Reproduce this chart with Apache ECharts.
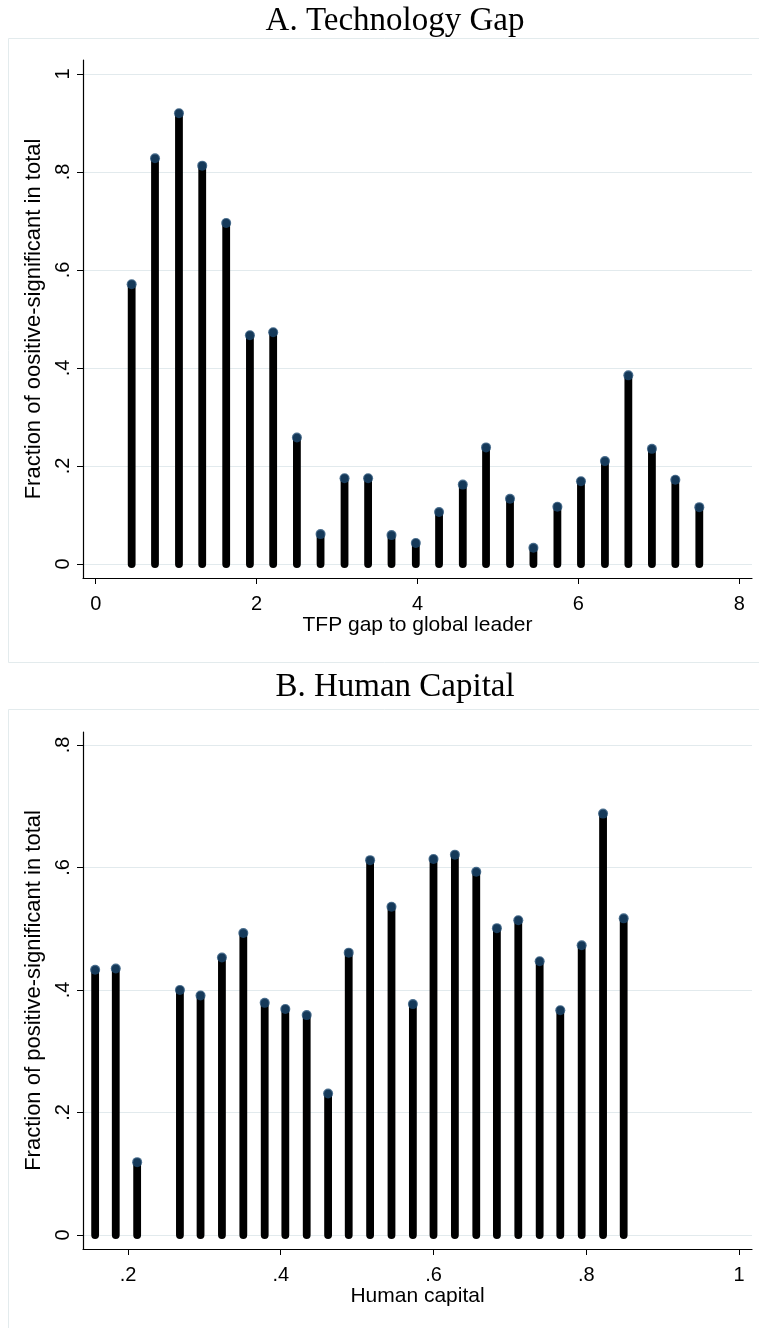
<!DOCTYPE html>
<html>
<head>
<meta charset="utf-8">
<script src="https://cdn.jsdelivr.net/npm/echarts@6/dist/echarts.min.js"></script>
<style>
html,body{margin:0;padding:0;background:#fff;}
#chart{width:759px;height:1328px;}
</style>
</head>
<body>
<div id="chart"></div>
<script>
// ---- Panel A: Technology Gap ----
const techGap = [0.447,0.737,1.035,1.324,1.622,1.917,2.206,2.501,2.795,3.093,3.386,3.677,3.979,4.268,4.563,4.852,5.150,5.441,5.739,6.032,6.330,6.621,6.914,7.205,7.503];
const techShare = [0.571,0.828,0.920,0.813,0.696,0.467,0.473,0.258,0.061,0.175,0.175,0.059,0.043,0.106,0.162,0.238,0.133,0.033,0.117,0.169,0.210,0.385,0.235,0.172,0.116];
const techXTicks = [0,2,4,6,8];
const techXLabels = ['0','2','4','6','8'];
const techYTicks = [0,0.2,0.4,0.6,0.8,1];
const techYLabels = ['0','.2','.4','.6','.8','1'];

// ---- Panel B: Human Capital ----
const humanCap = [0.157,0.184,0.212,0.268,0.295,0.323,0.351,0.379,0.406,0.434,0.462,0.489,0.517,0.545,0.573,0.600,0.628,0.656,0.683,0.711,0.739,0.766,0.794,0.822,0.849];
const humanShare = [0.433,0.435,0.119,0.400,0.391,0.453,0.493,0.379,0.369,0.359,0.231,0.461,0.612,0.536,0.377,0.614,0.621,0.593,0.501,0.514,0.447,0.367,0.473,0.688,0.517];
const humanXTicks = [0.2,0.4,0.6,0.8,1];
const humanXLabels = ['.2','.4','.6','.8','1'];
const humanYTicks = [0,0.2,0.4,0.6,0.8];
const humanYLabels = ['0','.2','.4','.6','.8'];

const titleA = 'A. Technology Gap';
const titleB = 'B. Human Capital';
const xNameA = 'TFP gap to global leader';
const yNameA = 'Fraction of oositive-significant in total';
const xNameB = 'Human capital';
const yNameB = 'Fraction of positive-significant in total';

const SANS = 'Liberation Sans, Arial, sans-serif';
const SERIF = 'Liberation Serif, Times New Roman, serif';
const GRIDC = '#e2eaed';
const DOT = '#1a476f';

function labelFmt(ticks, labels) {
  return function (v) {
    for (let i = 0; i < ticks.length; i++) {
      if (Math.abs(ticks[i] - v) < 1e-6) return labels[i];
    }
    return '';
  };
}

function xAxisCfg(gridIndex, min, max, ticks, labels, name) {
  return {
    type: 'value', gridIndex, min, max,
    name, nameLocation: 'middle', nameGap: 35,
    nameTextStyle: {fontFamily: SANS, fontSize: 21, color: '#000'},
    axisLine: {show: true, onZero: false, lineStyle: {color: '#000', width: 1.2}},
    axisTick: {show: true, length: 6, customValues: ticks, lineStyle: {color: '#000', width: 1}},
    axisLabel: {show: true, customValues: ticks, formatter: labelFmt(ticks, labels), margin: 16,
      fontFamily: SANS, fontSize: 20, color: '#000'},
    splitLine: {show: false}
  };
}
function yAxisCfg(gridIndex, min, max, ticks, labels, name) {
  return {
    type: 'value', gridIndex, min, max,
    name, nameLocation: 'middle', nameGap: 33, nameRotate: 90,
    nameTextStyle: {fontFamily: SANS, fontSize: 22, color: '#000'},
    axisLine: {show: true, onZero: false, lineStyle: {color: '#000', width: 1.2}},
    axisTick: {show: true, length: 6, customValues: ticks, lineStyle: {color: '#000', width: 1}},
    axisLabel: {show: true, customValues: ticks, formatter: labelFmt(ticks, labels), rotate: 90, margin: 10,
      fontFamily: SANS, fontSize: 20, color: '#000'},
    splitLine: {show: true, lineStyle: {color: GRIDC, width: 1.2}}
  };
}

function spikeSeries(idx, xs, ys) {
  return {
    type: 'custom', xAxisIndex: idx, yAxisIndex: idx,
    data: xs.map((x, i) => [x, ys[i]]),
    renderItem: function (params, api) {
      const p0 = api.coord([api.value(0), 0]);
      const p1 = api.coord([api.value(0), api.value(1)]);
      return {
        type: 'line',
        shape: {x1: p0[0], y1: p0[1], x2: p1[0], y2: p1[1]},
        style: {stroke: '#000', lineWidth: 7.8, lineCap: 'round'}
      };
    },
    z: 2, silent: true, animation: false
  };
}
function dotSeries(idx, xs, ys) {
  return {
    type: 'scatter', xAxisIndex: idx, yAxisIndex: idx,
    data: xs.map((x, i) => [x, ys[i]]),
    symbol: 'circle', symbolSize: 10,
    itemStyle: {color: DOT},
    z: 3, silent: true, animation: false
  };
}

const chart = echarts.init(document.getElementById('chart'), null, {renderer: 'canvas'});
chart.setOption({
  backgroundColor: '#fff',
  animation: false,
  title: [
    {text: titleA, left: 390, top: 0, textAlign: 'center',
      textStyle: {fontFamily: SERIF, fontSize: 33, fontWeight: 'normal', color: '#000'}},
    {text: titleB, left: 390, top: 666, textAlign: 'center',
      textStyle: {fontFamily: SERIF, fontSize: 33, fontWeight: 'normal', color: '#000'}}
  ],
  graphic: [
    {type: 'rect', silent: true, z: -10, shape: {x: 8.5, y: 38.5, width: 800, height: 624},
      style: {fill: 'none', stroke: '#e3ebed', lineWidth: 1}},
    {type: 'rect', silent: true, z: -10, shape: {x: 8.5, y: 709.5, width: 800, height: 640},
      style: {fill: 'none', stroke: '#e3ebed', lineWidth: 1}}
  ],
  grid: [
    {left: 83, top: 60, width: 669, height: 518, containLabel: false},
    {left: 83, top: 732, width: 669, height: 517, containLabel: false}
  ],
  xAxis: [
    xAxisCfg(0, -0.158, 8.158, techXTicks, techXLabels, xNameA),
    xAxisCfg(1, 0.1411, 1.017, humanXTicks, humanXLabels, xNameB)
  ],
  yAxis: [
    yAxisCfg(0, -0.02857, 1.02857, techYTicks, techYLabels, yNameA),
    yAxisCfg(1, -0.0228, 0.8212, humanYTicks, humanYLabels, yNameB)
  ],
  series: [
    spikeSeries(0, techGap, techShare),
    dotSeries(0, techGap, techShare),
    spikeSeries(1, humanCap, humanShare),
    dotSeries(1, humanCap, humanShare)
  ]
});
</script>
</body>
</html>
